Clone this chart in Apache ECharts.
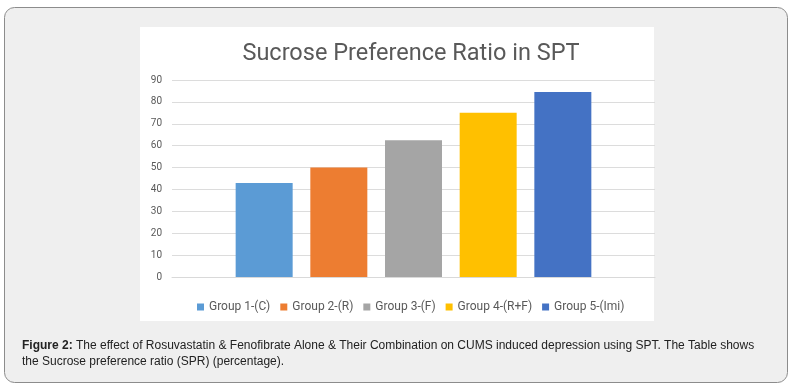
<!DOCTYPE html>
<html><head><meta charset="utf-8">
<script src="https://cdn.jsdelivr.net/npm/echarts@6/dist/echarts.min.js"></script>
<style>html,body{margin:0;padding:0;background:#fff}#c{width:792px;height:387px}</style>
</head><body><div id="c"></div>
<script>
const categories = ['SPR'];
const seriesNames = ['Group 1-(C)', 'Group 2-(R)', 'Group 3-(F)', 'Group 4-(R+F)', 'Group 5-(Imi)'];
const seriesValues = [43, 50, 62.5, 75, 84.5];
const seriesColors = ['#5b9bd5', '#ed7d31', '#a5a5a5', '#ffc000', '#4472c4'];
const yTicks = [0, 10, 20, 30, 40, 50, 60, 70, 80, 90];

const chart = echarts.init(document.getElementById('c'), null, {renderer: 'canvas'});
chart.setOption({
  animation: false,
  backgroundColor: 'transparent',
  graphic: [
    {type: 'rect', z: -10, shape: {x: 4.5, y: 7.5, width: 783, height: 375, r: 10},
     style: {fill: '#efefef', stroke: '#8c8c8c', lineWidth: 1}},
    {type: 'rect', z: -9, shape: {x: 140, y: 27, width: 514, height: 294},
     style: {fill: '#ffffff'}},
    {type: 'text', left: 22, top: 338, z: 5,
     style: {
       text: '{b|Figure 2:} The effect of Rosuvastatin & Fenofibrate Alone & Their Combination on CUMS induced depression using SPT. The Table shows\nthe Sucrose preference ratio (SPR) (percentage).',
       font: '12px "Liberation Sans", Arial, sans-serif', fill: '#222', lineHeight: 16,
       rich: {b: {fontWeight: 'bold', fontSize: 12, fontFamily: '"Liberation Sans", Arial, sans-serif', fill: '#222'}}
     }}
  ],
  title: {
    text: 'Sucrose Preference Ratio in SPT', left: 406, top: 37, textAlign: 'center',
    textStyle: {fontSize: 23.5, fontWeight: 'normal', color: '#595959', fontFamily: 'Roboto, "Noto Sans", sans-serif'}
  },
  legend: {
    data: seriesNames, left: 192, top: 296, itemWidth: 7, itemHeight: 7, itemGap: 10,
    icon: 'rect',
    textStyle: {fontSize: 12, color: '#595959', fontFamily: 'Roboto, sans-serif'}
  },
  grid: {left: 172, right: 137, top: 80, bottom: 110},
  xAxis: {
    type: 'category', data: categories,
    axisLine: {lineStyle: {color: '#d9d9d9'}}, axisTick: {show: false}, axisLabel: {show: false}
  },
  yAxis: {
    type: 'value', min: yTicks[0], max: yTicks[yTicks.length - 1], interval: 10,
    axisLine: {show: false}, axisTick: {show: false},
    axisLabel: {color: '#595959', fontSize: 10, margin: 10, fontFamily: 'Roboto, sans-serif'},
    splitLine: {lineStyle: {color: '#dcdcdc', width: 1}}
  },
  series: seriesNames.map((n, i) => ({
    name: n, type: 'bar', data: [seriesValues[i]], barWidth: 57, barGap: '31%',
    itemStyle: {color: seriesColors[i]}
  }))
});
</script></body></html>
